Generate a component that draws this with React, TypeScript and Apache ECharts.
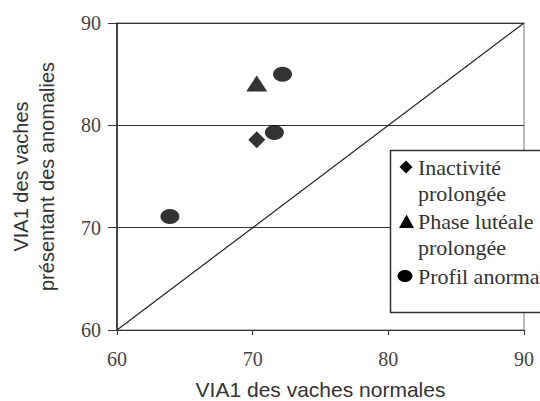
import React, { useEffect, useRef } from "react";
import * as echarts from "echarts";

const inactivite: number[][] = [[70.3, 78.6]];
const phaseLuteale: number[][] = [[70.3, 84.1]];
const profilAnormal: number[][] = [
  [72.2, 85.0],
  [71.6, 79.3],
  [63.9, 71.1],
];
const diagonal: number[][] = [
  [60, 60],
  [90, 90],
];
const legendLines: string[][] = [
  ["Inactivité", "prolongée"],
  ["Phase lutéale", "prolongée"],
  ["Profil anormal"],
];
const xTitle = "VIA1 des vaches normales";
const yTitle = "VIA1 des vaches\nprésentant des anomalies";

export default function App() {
  const ref = useRef<HTMLDivElement>(null);
  useEffect(() => {
    if (!ref.current) return;
    const chart = echarts.init(ref.current, null, { renderer: "svg" });
    const serif = "Liberation Serif";
    const sans = "Liberation Sans";
    const lx = 418;
    const lineYs = [[167, 193], [221, 247], [276]];
    const texts: any[] = [];
    legendLines.forEach((lines, i) => {
      lines.forEach((t, j) => {
        texts.push({
          type: "text",
          x: lx,
          y: lineYs[i][j],
          z: 101,
          style: {
            text: t,
            fontFamily: serif,
            fontSize: 22,
            fill: "#333",
            verticalAlign: "middle",
            align: "left",
          },
        });
      });
    });
    chart.setOption({
      animation: false,
      backgroundColor: "#fff",
      grid: {
        left: 117,
        right: 16,
        top: 23,
        bottom: 71,
        show: true,
        borderColor: "#777",
        borderWidth: 1,
        outerBoundsMode: "none",
        containLabel: false,
      },
      xAxis: {
        type: "value",
        min: 60,
        max: 90,
        interval: 10,
        name: xTitle,
        nameLocation: "middle",
        nameGap: 49,
        nameTextStyle: { fontFamily: sans, fontSize: 21, color: "#333" },
        axisLine: { show: true, lineStyle: { color: "#333", width: 1.2 } },
        axisTick: { show: true, length: 5, lineStyle: { color: "#333" } },
        axisLabel: { fontFamily: serif, fontSize: 20, color: "#444", margin: 19 },
        splitLine: { show: false },
      },
      yAxis: {
        type: "value",
        min: 60,
        max: 90,
        interval: 10,
        name: yTitle,
        nameLocation: "middle",
        nameGap: 57,
        nameTextStyle: { fontFamily: sans, fontSize: 20, color: "#333", lineHeight: 26 },
        axisLine: { show: true, lineStyle: { color: "#222", width: 1.5 } },
        axisTick: { show: true, length: 9, lineStyle: { color: "#333" } },
        axisLabel: { fontFamily: serif, fontSize: 20, color: "#444", margin: 16 },
        splitLine: { show: true, lineStyle: { color: "#333", width: 1 } },
      },
      series: [
        {
          type: "line",
          data: diagonal,
          symbol: "none",
          lineStyle: { color: "#222", width: 1.2 },
          silent: true,
        },
        {
          type: "scatter",
          name: "Inactivité prolongée",
          data: inactivite,
          symbol: "diamond",
          symbolSize: [17, 17],
          itemStyle: { color: "#000" },
        },
        {
          type: "scatter",
          name: "Phase lutéale prolongée",
          data: phaseLuteale,
          symbol: "triangle",
          symbolSize: [21, 16],
          itemStyle: { color: "#000" },
        },
        {
          type: "scatter",
          name: "Profil anormal",
          data: profilAnormal,
          symbol: "circle",
          symbolSize: [19, 15],
          itemStyle: { color: "#000" },
        },
      ],
      graphic: [
        {
          type: "rect",
          shape: { x: 390.5, y: 150.5, width: 200, height: 162 },
          style: { fill: "#fff", stroke: "#333", lineWidth: 1.5 },
          z: 100,
        },
        {
          type: "polygon",
          shape: { points: [[406, 160.5], [412.5, 167], [406, 173.5], [399.5, 167]] },
          style: { fill: "#000" },
          z: 101,
        },
        {
          type: "polygon",
          shape: { points: [[406.5, 214.5], [414, 228], [399, 228]] },
          style: { fill: "#000" },
          z: 101,
        },
        {
          type: "ellipse",
          shape: { cx: 405, cy: 276, rx: 7.5, ry: 6 },
          style: { fill: "#000" },
          z: 101,
        },
        ...texts,
      ],
    });
    return () => chart.dispose();
  }, []);
  return (
    <div
      ref={ref}
      style={{ position: "fixed", left: 0, top: 0, width: 540, height: 401 }}
    />
  );
}
